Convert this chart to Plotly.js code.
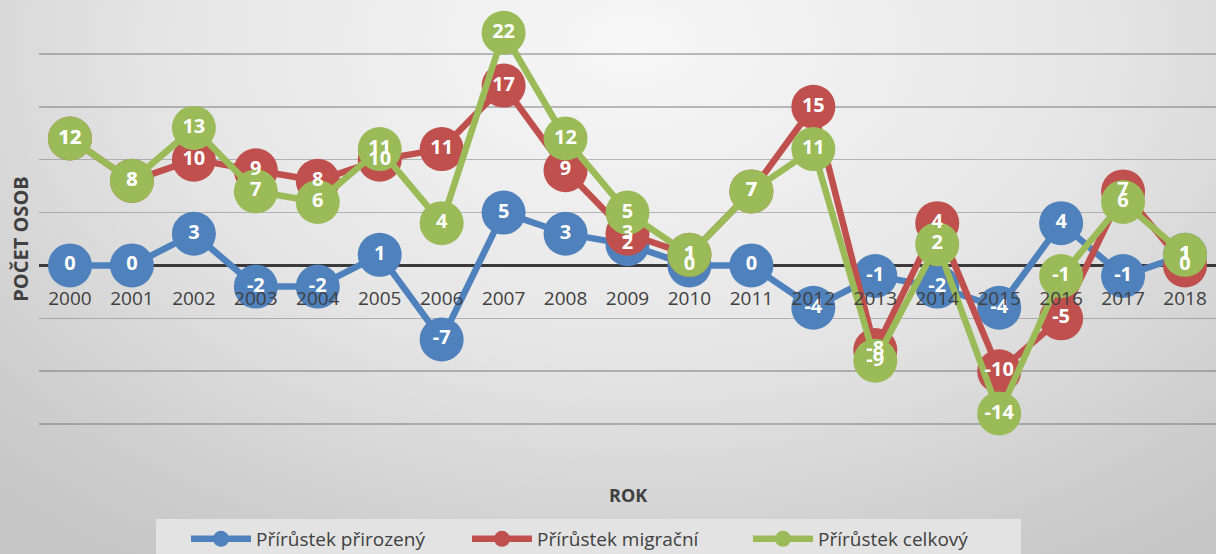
<!DOCTYPE html>
<html>
<head>
<meta charset="utf-8">
<script src="https://cdn.plot.ly/plotly-3.0.1.min.js"></script>
<style>
html,body{margin:0;padding:0;}
#chart{width:1216px;height:554px;background:radial-gradient(ellipse 75% 110% at 52% 8%, #f7f7f7 0%, #e6e6e6 50%, #cfcfcf 85%, #c6c6c6 100%);}
</style>
</head>
<body>
<div id="chart"></div>
<script>
const years = ["2000","2001","2002","2003","2004","2005","2006","2007","2008","2009","2010","2011","2012","2013","2014","2015","2016","2017","2018"];
const prirozeny = [0,0,3,-2,-2,1,-7,5,3,2,0,0,-4,-1,-2,-4,4,-1,1];
const migracni = [12,8,10,9,8,10,11,17,9,3,1,7,15,-8,4,-10,-5,7,0];
const celkovy = [12,8,13,7,6,11,4,22,12,5,1,7,11,-9,2,-14,-1,6,1];
const seriesNames = ["Přírůstek přirozený","Přírůstek migrační","Přírůstek celkový"];
const colors = ["#4f81bd","#c0504d","#9bbb59"];

const FONT = "Open Sans, Liberation Sans, sans-serif";
const allSeries = [prirozeny, migracni, celkovy];

const traces = [];
allSeries.forEach((vals, i) => {
  traces.push({
    x: years, y: vals, name: seriesNames[i], type: "scatter", mode: "lines+markers",
    line: {color: colors[i], width: 6.5},
    marker: {color: colors[i], size: 44, line: {width: 0}},
    hoverinfo: "x+y"
  });
});
allSeries.forEach((vals, i) => {
  traces.push({
    x: years, y: vals, type: "scatter", mode: "text", showlegend: false,
    text: vals.map(v => String(v)), textposition: "middle center",
    textfont: {family: FONT, size: 20, color: "#ffffff", weight: "bold"},
    hoverinfo: "skip"
  });
});

const yMin = -20, yMax = 25;
const layout = {
  width: 1216, height: 554,
  margin: {l: 39, r: 0, t: 1, b: 77, autoexpand: false},
  paper_bgcolor: "rgba(0,0,0,0)",
  plot_bgcolor: "rgba(0,0,0,0)",
  showlegend: true,
  xaxis: {
    type: "category", range: [-0.5, 18.5],
    anchor: "free", position: (0 - yMin) / (yMax - yMin),
    showgrid: false, showline: false, zeroline: false,
    ticks: "outside", ticklen: 16, tickcolor: "rgba(0,0,0,0)",
    tickfont: {family: FONT, size: 19, color: "#404040"},
    fixedrange: true
  },
  yaxis: {
    range: [yMin, yMax], dtick: 5, tick0: 0,
    showticklabels: false, ticks: "",
    showgrid: true, gridcolor: "rgba(110,110,110,0.45)", gridwidth: 1.5,
    zeroline: true, zerolinecolor: "#3a3a3a", zerolinewidth: 3,
    title: {text: "POČET OSOB", font: {family: FONT, size: 20, color: "#404040", weight: "bold"}, standoff: 4},
    fixedrange: true
  },
  shapes: [{
    type: "rect", xref: "paper", yref: "paper", layer: "below",
    x0: 0.0994, x1: 0.8343, y0: -0.0882, y1: -0.18,
    fillcolor: "#e3e3e3", line: {width: 0}
  }],
  annotations: [{
    text: "ROK", xref: "paper", yref: "paper", x: 0.5, y: -0.0378,
    xanchor: "center", yanchor: "middle", showarrow: false,
    font: {family: FONT, size: 18, color: "#404040", weight: "bold"}
  }],
  legend: {
    orientation: "h", x: 0.1249, xanchor: "left", y: -0.0903, yanchor: "top",
    bgcolor: "rgba(0,0,0,0)", borderwidth: 0,
    font: {family: FONT, size: 19, color: "#404040"},
    entrywidth: 206, itemwidth: 60,
    traceorder: "normal"
  }
};

Plotly.newPlot("chart", traces, layout, {displayModeBar: false, staticPlot: true});
</script>
</body>
</html>
